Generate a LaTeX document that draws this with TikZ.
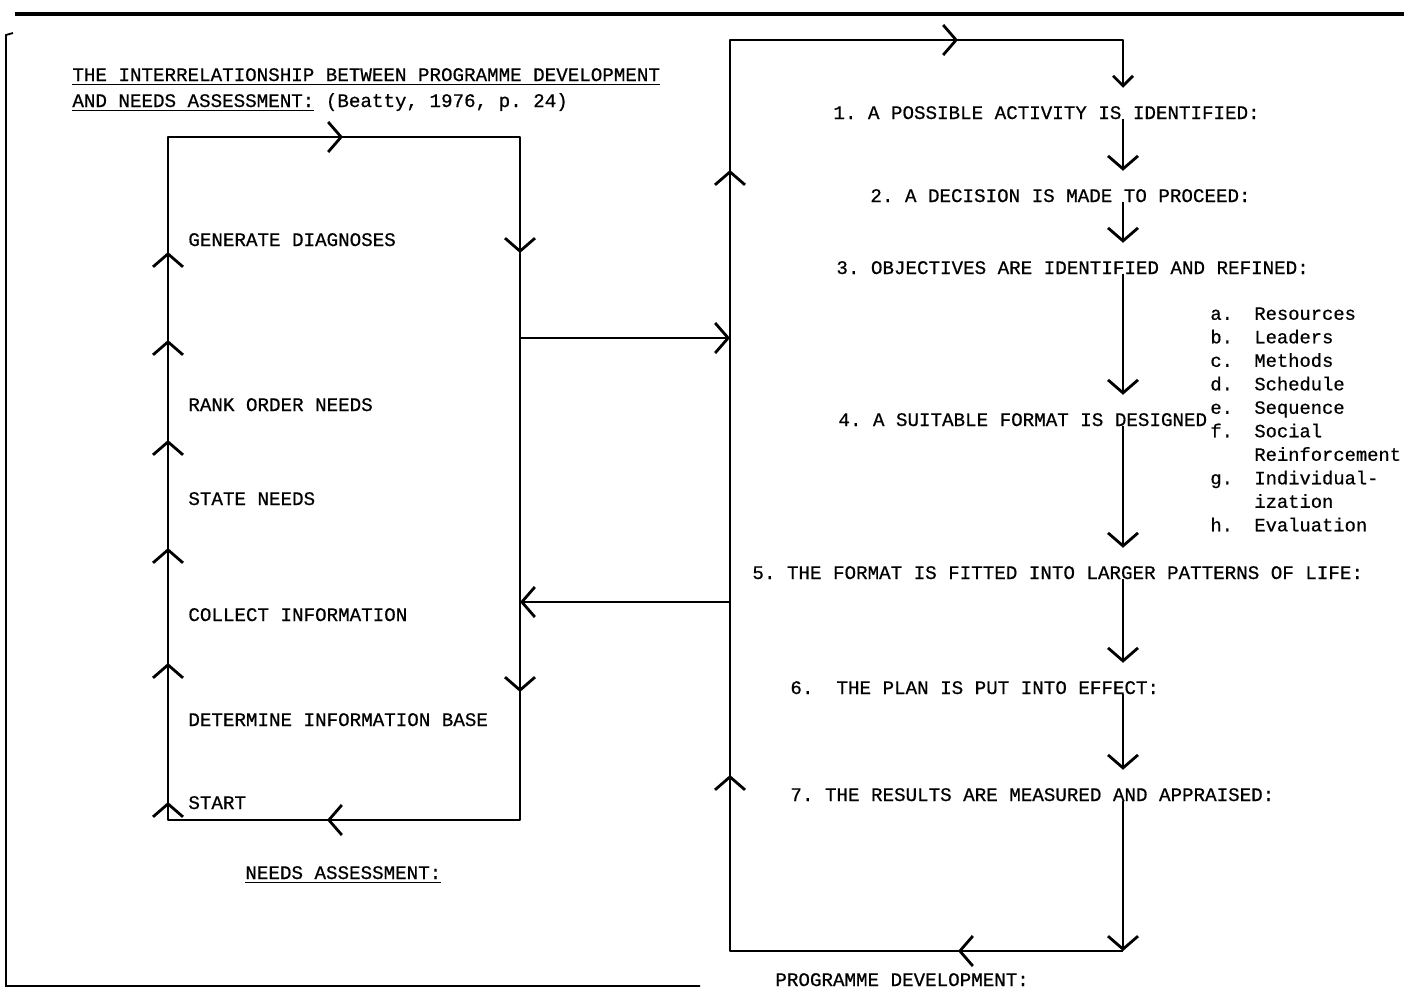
\documentclass[tikz,border=0pt]{standalone}
\usepackage{fontspec}
\setmonofont{Liberation Mono}[FakeBold=0.6]
\usetikzlibrary{arrows.meta,decorations.markings}
\newcommand{\resitem}[2]{\makebox[22pt][l]{#1}#2}

\begin{document}
\begin{tikzpicture}[x=0.5pt, y=-0.5pt, font=\ttfamily\fontsize{9.6}{12}\selectfont,
  chev/.tip={Straight Barb[length=6.5pt,width=15pt]},
  smallchev/.tip={Straight Barb[length=5pt,width=10pt]},
  loopline/.style={line width=1.4pt, line join=round},
  flow/.style={loopline, -{chev}},
  tipat/.style={postaction={decorate, decoration={markings, mark=at position #1 with {\arrow{chev}}}}},
  lbl/.style={anchor=base west, inner sep=0pt},
  stepbox/.style={anchor=base west, inner xsep=0pt, inner ysep=9pt}]
\useasboundingbox (0,0) rectangle (1404,991);

% page frame
\draw[line width=1.6pt] (15,14) -- (1404,14);
\draw[line width=0.9pt] (13,33) -- (6,35) -- (6,986) -- (700,986);

% title
\node[lbl] (title) at (72,81) {\underline{THE INTERRELATIONSHIP BETWEEN PROGRAMME DEVELOPMENT}};
\node[lbl] (source) at (72,107) {\underline{AND NEEDS ASSESSMENT:} (Beatty, 1976, p. 24)};

% needs assessment loop
\coordinate (na-tl) at (168,137);
\coordinate (na-tr) at (520,137);
\coordinate (na-br) at (520,820);
\coordinate (na-bl) at (168,820);
\draw[loopline, tipat=9pt, tipat=78.5pt, tipat=136pt, tipat=190pt, tipat=240pt,
  tipat=284pt, tipat=429pt, tipat=575.5pt, tipat=795pt, tipat=955.5pt]
  (na-bl) -- (na-tl) -- (na-tr) -- (na-br) -- cycle;

\node[lbl] (diag) at (188,246) {GENERATE DIAGNOSES};
\node[lbl] (rank) at (188,411) {RANK ORDER NEEDS};
\node[lbl] (state) at (188,505) {STATE NEEDS};
\node[lbl] (collect) at (188,621) {COLLECT INFORMATION};
\node[lbl] (base) at (188,726) {DETERMINE INFORMATION BASE};
\node[lbl] (start) at (188,809) {START};
\node[lbl] (na-title) at (245,879) {\underline{NEEDS ASSESSMENT:}};

% programme development loop
\coordinate (pd-tl) at (730,40);
\coordinate (pd-tr) at (1123,40);
\coordinate (pd-br) at (1123,951);
\coordinate (pd-bl) at (730,951);

\node[stepbox] (s1) at (833,119) {1. A POSSIBLE ACTIVITY IS IDENTIFIED:};
\node[stepbox] (s2) at (870,202) {2. A DECISION IS MADE TO PROCEED:};
\node[stepbox] (s3) at (836,274) {3. OBJECTIVES ARE IDENTIFIED AND REFINED:};
\node[stepbox] (s4) at (838,426) {4. A SUITABLE FORMAT IS DESIGNED};
\node[stepbox] (s5) at (752,579) {5. THE FORMAT IS FITTED INTO LARGER PATTERNS OF LIFE:};
\node[stepbox] (s6) at (790,694) {6.\ \ THE PLAN IS PUT INTO EFFECT:};
\node[stepbox] (s7) at (790,801) {7. THE RESULTS ARE MEASURED AND APPRAISED:};
\node[lbl] (pd-title) at (775,986) {PROGRAMME DEVELOPMENT:};

\node[anchor=north west, inner sep=0pt, align=left,
  font=\ttfamily\fontsize{9.4}{11.75}\selectfont] (format) at (1210,307)
  {\resitem{a.}{Resources}\\ \resitem{b.}{Leaders}\\ \resitem{c.}{Methods}\\
   \resitem{d.}{Schedule}\\ \resitem{e.}{Sequence}\\ \resitem{f.}{Social}\\
   \resitem{}{Reinforcement}\\ \resitem{g.}{Individual-}\\ \resitem{}{ization}\\
   \resitem{h.}{Evaluation}};

\draw[loopline, -{smallchev}, tipat=82.5pt, tipat=284.5pt, tipat=587pt, tipat=766pt]
  (pd-br) -- (pd-bl) -- (pd-tl) -- (pd-tr) -- (s1.north -| pd-tr);
\draw[flow] (s1.center -| pd-tr) ++(0,6) -- (s2.north -| pd-tr);
\draw[flow] (s2.center -| pd-tr) ++(0,6) -- (s3.north -| pd-tr);
\draw[flow] (s3.center -| pd-tr) ++(0,6) -- (s4.north -| pd-tr);
\draw[flow] (s4.center -| pd-tr) ++(0,6) -- (s5.north -| pd-tr);
\draw[flow] (s5.center -| pd-tr) ++(0,6) -- (s6.north -| pd-tr);
\draw[flow] (s6.center -| pd-tr) ++(0,6) -- (s7.north -| pd-tr);
\draw[flow] (s7.center -| pd-tr) ++(0,6) -- (pd-br);

% links between the loops
\coordinate (na-out) at (520,338);
\coordinate (pd-out) at (730,602);
\draw[flow] (na-out) -- (na-out -| pd-tl);
\draw[flow] (pd-out) -- (pd-out -| na-tr);
\end{tikzpicture}
\end{document}
